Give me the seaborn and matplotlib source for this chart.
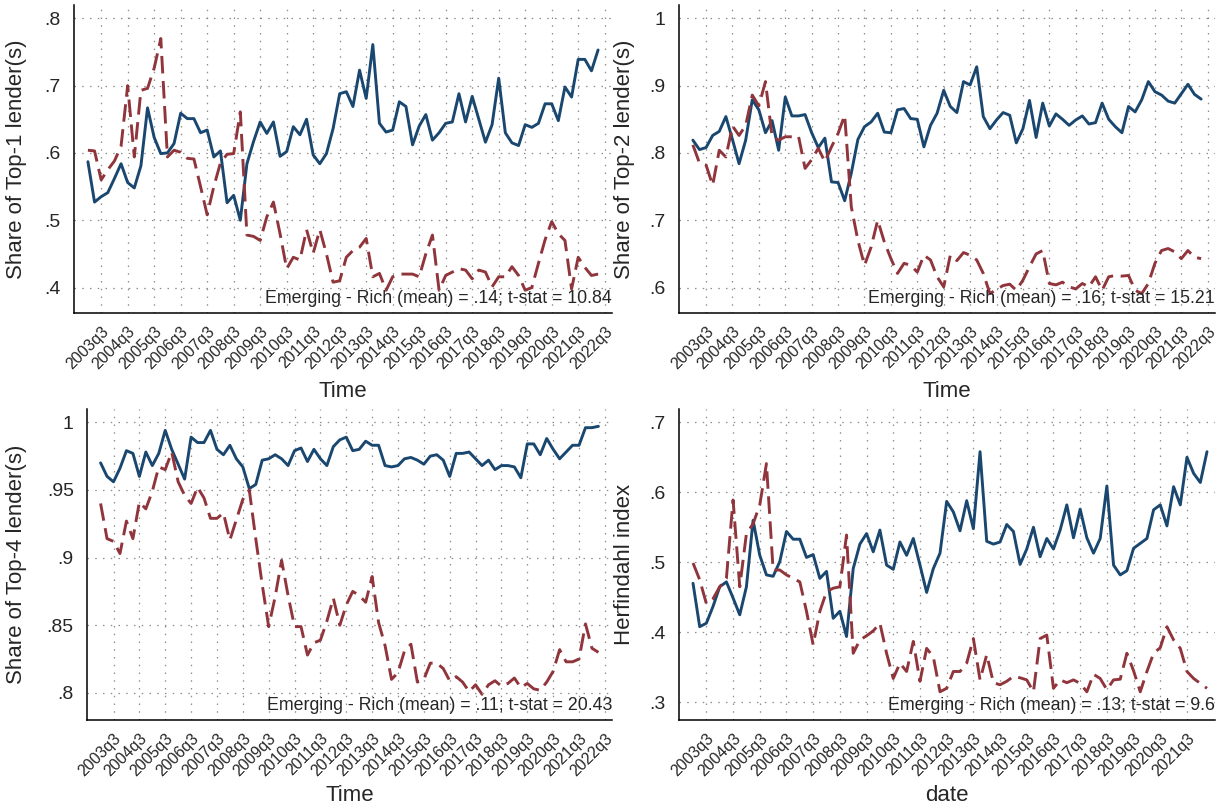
import numpy as np
import pandas as pd
import matplotlib
matplotlib.use("Agg")
import matplotlib.pyplot as plt
import seaborn as sns

# quarters 2003q1 .. 2022q2 -> index 0..77
quarter_idx = list(range(78))

# x tick labels (every 4 quarters, starting 2003q3 = index 2)
tick_labels = ["2003q3", "2004q3", "2005q3", "2006q3", "2007q3", "2008q3", "2009q3",
               "2010q3", "2011q3", "2012q3", "2013q3", "2014q3", "2015q3", "2016q3",
               "2017q3", "2018q3", "2019q3", "2020q3", "2021q3", "2022q3"]

# Top-1 share
top1_emerging = [0.587, 0.527, 0.535, 0.541, 0.562, 0.584, 0.556, 0.548, 0.581, 0.667,
                 0.623, 0.599, 0.600, 0.614, 0.659, 0.651, 0.651, 0.630, 0.634, 0.594,
                 0.603, 0.526, 0.537, 0.500, 0.584, 0.617, 0.646, 0.629, 0.646, 0.595,
                 0.602, 0.639, 0.627, 0.650, 0.597, 0.584, 0.599, 0.636, 0.688,
                 0.691, 0.669, 0.723, 0.681, 0.761, 0.644, 0.631, 0.634, 0.676, 0.669, 0.612,
                 0.640, 0.657, 0.619, 0.630, 0.644, 0.646, 0.688, 0.646, 0.684, 0.650,
                 0.616, 0.642, 0.711, 0.630, 0.615, 0.611, 0.642, 0.638, 0.644, 0.673,
                 0.673, 0.648, 0.698, 0.683, 0.739, 0.739, 0.722, 0.753]
top1_rich = [0.604, 0.603, 0.560, 0.575, 0.588, 0.610, 0.700, 0.594, 0.693, 0.696,
             0.726, 0.770, 0.594, 0.604, 0.601, 0.592, 0.591, 0.550, 0.508, 0.550,
             0.585, 0.598, 0.599, 0.661, 0.478, 0.476, 0.470, 0.505, 0.527, 0.480,
             0.428, 0.445, 0.441, 0.486, 0.451, 0.486, 0.450, 0.408, 0.410,
             0.445, 0.455, 0.460, 0.473, 0.416, 0.421, 0.396, 0.416, 0.420, 0.420,
             0.420, 0.416, 0.450, 0.478, 0.396, 0.418, 0.423, 0.428, 0.426, 0.413,
             0.426, 0.423, 0.401, 0.416, 0.416, 0.431, 0.418, 0.396, 0.400, 0.436,
             0.471, 0.498, 0.480, 0.470, 0.398, 0.445, 0.430, 0.418, 0.420]

# Top-2 share
top2_emerging = [0.819, 0.805, 0.808, 0.826, 0.832, 0.854, 0.820, 0.784, 0.819, 0.879,
                 0.864, 0.830, 0.848, 0.804, 0.883, 0.855, 0.855, 0.857, 0.830, 0.808,
                 0.822, 0.757, 0.756, 0.729, 0.770, 0.820, 0.839, 0.846, 0.859, 0.831,
                 0.830, 0.864, 0.866, 0.851, 0.850, 0.809, 0.841, 0.859, 0.893, 0.869,
                 0.860, 0.906, 0.901, 0.928, 0.854, 0.836, 0.849, 0.860, 0.856, 0.815,
                 0.836, 0.878, 0.823, 0.874, 0.840, 0.858, 0.850, 0.841, 0.849, 0.855,
                 0.843, 0.845, 0.874, 0.850, 0.839, 0.830, 0.869, 0.861, 0.879, 0.906,
                 0.891, 0.886, 0.877, 0.874, 0.888, 0.902, 0.887, 0.880]
top2_rich = [0.812, 0.785, 0.782, 0.752, 0.804, 0.794, 0.840, 0.826, 0.841, 0.886,
             0.870, 0.906, 0.824, 0.819, 0.824, 0.824, 0.825, 0.777, 0.790, 0.807,
             0.787, 0.809, 0.829, 0.856, 0.720, 0.670, 0.633, 0.660, 0.700, 0.668,
             0.643, 0.621, 0.636, 0.633, 0.623, 0.648, 0.641, 0.616, 0.601, 0.648,
             0.640, 0.652, 0.648, 0.641, 0.621, 0.591, 0.597, 0.603, 0.605, 0.596,
             0.611, 0.631, 0.650, 0.655, 0.606, 0.604, 0.608, 0.601, 0.598, 0.606,
             0.601, 0.616, 0.596, 0.616, 0.618, 0.617, 0.618, 0.596, 0.591, 0.606,
             0.636, 0.655, 0.658, 0.653, 0.643, 0.655, 0.645, 0.643]

# Top-4 share
top4_emerging = [0.970, 0.960, 0.956, 0.966, 0.979, 0.977, 0.960, 0.978, 0.968, 0.977,
                 0.994, 0.980, 0.969, 0.958, 0.989, 0.985, 0.985, 0.994, 0.980, 0.976,
                 0.983, 0.973, 0.967, 0.951, 0.954, 0.972, 0.973, 0.976, 0.973, 0.968,
                 0.979, 0.981, 0.971, 0.980, 0.973, 0.968, 0.982, 0.987,
                 0.989, 0.979, 0.980, 0.986, 0.983, 0.983, 0.968, 0.967, 0.968, 0.973,
                 0.974, 0.972, 0.969, 0.975, 0.976, 0.972, 0.960, 0.977, 0.977, 0.978,
                 0.973, 0.968, 0.972, 0.965, 0.968, 0.968, 0.967, 0.959, 0.984, 0.984,
                 0.976, 0.988, 0.980, 0.973, 0.978, 0.983, 0.983, 0.996, 0.996, 0.997]
top4_rich = [0.940, 0.914, 0.912, 0.903, 0.927, 0.914, 0.941, 0.936, 0.949, 0.967,
             0.965, 0.978, 0.956, 0.946, 0.940, 0.952, 0.944, 0.929, 0.929, 0.933,
             0.913, 0.928, 0.943, 0.950, 0.914, 0.880, 0.849, 0.871, 0.898, 0.872,
             0.849, 0.849, 0.828, 0.837, 0.839, 0.853, 0.870, 0.850,
             0.865, 0.875, 0.872, 0.867, 0.886, 0.852, 0.835, 0.810, 0.815, 0.831,
             0.836, 0.808, 0.810, 0.822, 0.822, 0.818, 0.809, 0.812, 0.808, 0.801,
             0.806, 0.799, 0.806, 0.809, 0.805, 0.807, 0.811, 0.804, 0.807, 0.803,
             0.802, 0.808, 0.816, 0.832, 0.823, 0.823, 0.825, 0.851, 0.833, 0.830]

# Herfindahl index
hhi_emerging = [0.470, 0.408, 0.413, 0.437, 0.465, 0.472, 0.449, 0.425, 0.465, 0.560,
                0.510, 0.482, 0.480, 0.501, 0.544, 0.533, 0.533, 0.507, 0.511, 0.477,
                0.487, 0.420, 0.430, 0.394, 0.491, 0.526, 0.541, 0.515, 0.546, 0.496,
                0.490, 0.529, 0.510, 0.534, 0.496, 0.457, 0.491, 0.513, 0.587, 0.572,
                0.545, 0.588, 0.548, 0.658, 0.530, 0.526, 0.529, 0.554, 0.544, 0.497,
                0.519, 0.550, 0.508, 0.534, 0.519, 0.546, 0.582, 0.535, 0.576, 0.535,
                0.513, 0.534, 0.609, 0.496, 0.482, 0.488, 0.520, 0.527, 0.534, 0.575,
                0.582, 0.552, 0.608, 0.582, 0.650, 0.627, 0.614, 0.658]
hhi_rich = [0.499, 0.475, 0.441, 0.448, 0.465, 0.477, 0.589, 0.465, 0.541, 0.555,
            0.582, 0.641, 0.489, 0.489, 0.482, 0.477, 0.472, 0.430, 0.382, 0.430,
            0.458, 0.463, 0.465, 0.539, 0.370, 0.389, 0.395, 0.402, 0.413, 0.370,
            0.334, 0.356, 0.344, 0.387, 0.330, 0.377, 0.365, 0.315, 0.320, 0.344,
            0.344, 0.356, 0.391, 0.332, 0.368, 0.328, 0.325, 0.330, 0.337, 0.335,
            0.332, 0.315, 0.391, 0.396, 0.320, 0.332, 0.328, 0.332, 0.327, 0.315,
            0.340, 0.334, 0.318, 0.332, 0.333, 0.370, 0.345, 0.315, 0.344, 0.370,
            0.378, 0.408, 0.389, 0.377, 0.344, 0.334, 0.327, 0.320]

sns.set_style("white")
plt.rcParams["font.family"] = ["Liberation Sans", "DejaVu Sans"]

navy = "#1a476f"
maroon = "#90353b"
W, H = 1225, 808

fig = plt.figure(figsize=(12.25, 8.08), dpi=100)


def make_axes(l, r, t, b):
    return fig.add_axes([l / W, 1 - b / H, (r - l) / W, (b - t) / H])


panels = [
    # box px (l, r, t, b), ylim, yticks, labels, ylabel, xlabel, series, note, n xticks, xlim right, xlabel gap
    ((74, 612, 5, 313), (0.3622, 0.8198), [0.4, 0.5, 0.6, 0.7, 0.8], [".4", ".5", ".6", ".7", ".8"],
     "Share of Top-1 lender(s)", "Time", top1_emerging, top1_rich,
     "Emerging - Rich (mean) = .14; t-stat = 10.84", 20, 79.1, 68),
    ((679, 1215, 5, 313), (0.5622, 1.0198), [0.6, 0.7, 0.8, 0.9, 1.0], [".6", ".7", ".8", ".9", "1"],
     "Share of Top-2 lender(s)", "Time", top2_emerging, top2_rich,
     "Emerging - Rich (mean) = .16; t-stat = 15.21", 20, 79.1, 68),
    ((87, 612, 409, 720), (0.780, 1.0098), [0.8, 0.85, 0.9, 0.95, 1.0], [".8", ".85", ".9", ".95", "1"],
     "Share of Top-4 lender(s)", "Time", top4_emerging, top4_rich,
     "Emerging - Rich (mean) = .11; t-stat = 20.43", 20, 79.1, 65),
    ((679, 1215, 409, 720), (0.2747, 0.719), [0.3, 0.4, 0.5, 0.6, 0.7], [".3", ".4", ".5", ".6", ".7"],
     "Herfindahl index", "date", hhi_emerging, hhi_rich,
     "Emerging - Rich (mean) = .13; t-stat = 9.6", 19, 78.2, 65),
]

for box, ylim, yt, ytl, ylab, xlab, emerging, rich, note, nticks, xright, xgap in panels:
    ax = make_axes(*box)
    df = pd.DataFrame({
        "q": quarter_idx + quarter_idx,
        "value": emerging + rich,
        "group": ["Emerging"] * len(emerging) + ["Rich"] * len(rich),
    })
    sns.lineplot(data=df, x="q", y="value", hue="group", style="group",
                 palette={"Emerging": navy, "Rich": maroon},
                 dashes={"Emerging": "", "Rich": (6.0, 2.6)},
                 linewidth=2.1, legend=False, ax=ax)

    ax.set_xlim(-2.1, xright)
    ax.set_ylim(*ylim)
    ax.set_yticks(yt)
    ax.set_yticklabels(ytl, fontsize=14)
    xt = [2 + 4 * k for k in range(nticks)]
    ax.set_xticks(xt)
    ax.set_xticklabels(tick_labels[:nticks], rotation=45, ha="right",
                       rotation_mode="anchor", fontsize=11.5)
    ax.tick_params(axis="both", direction="out", length=6, width=1.0, color="black")
    ax.tick_params(axis="x", pad=2)
    ax.grid(True, color="#8c8c8c", linestyle=(0, (1.2, 5.0)), linewidth=0.9)

    for side in ["top", "right"]:
        ax.spines[side].set_visible(False)
    for side in ["left", "bottom"]:
        ax.spines[side].set_color("black")
        ax.spines[side].set_linewidth(1.1)

    left, right, top, bottom = box
    ax.set_ylabel(ylab, fontsize=16)
    ax.yaxis.set_label_coords((27 - left if left < 600 else 635 - left) / (right - left), 0.5)
    ax.set_xlabel(xlab, fontsize=16)
    ax.xaxis.set_label_coords(0.5, -xgap / (bottom - top))

    ax.text(1.0, 0.048, note, transform=ax.transAxes, ha="right", va="center", fontsize=12.8)

fig.savefig("out.png", dpi=100)
